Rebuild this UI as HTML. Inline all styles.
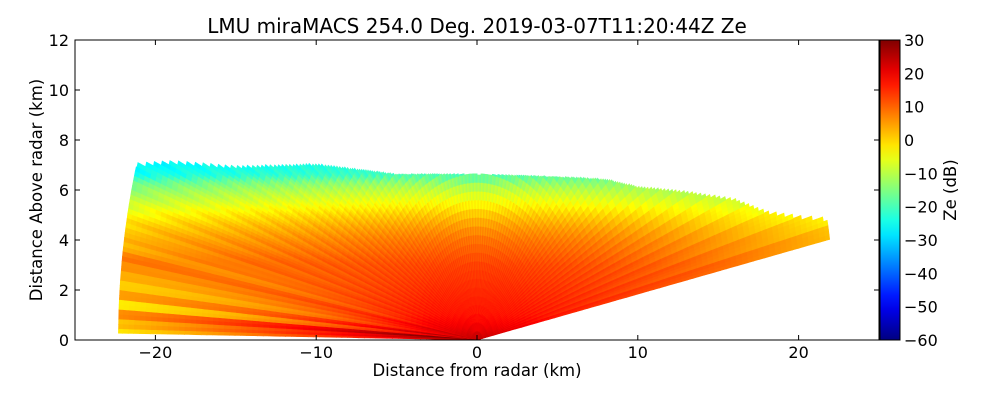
<!DOCTYPE html>
<html><head><meta charset="utf-8">
<style>
body{margin:0;background:#fff;}
svg{display:block;font-family:"DejaVu Sans","Liberation Sans",sans-serif;}
</style></head>
<body>
<svg id="c" width="1000" height="400" viewBox="0 0 1000 400" xmlns="http://www.w3.org/2000/svg">
<defs>
<linearGradient id="cbg" x1="0" y1="1" x2="0" y2="0"></linearGradient>
<clipPath id="pclip"><rect x="75" y="40" width="804" height="300"/></clipPath>
</defs>
<text x="477" y="33" font-size="20" text-anchor="middle">LMU miraMACS 254.0 Deg. 2019-03-07T11:20:44Z  Ze</text>
<g id="field" clip-path="url(#pclip)"></g>
<rect x="75" y="40" width="804" height="300" fill="none" stroke="#000" stroke-width="1"/>
<g id="axes"></g>
<text x="477" y="376" font-size="16.5" text-anchor="middle">Distance from radar (km)</text>
<text transform="translate(42,190) rotate(-90)" font-size="16.5" text-anchor="middle">Distance Above radar  (km)</text>
<rect x="880" y="40" width="20" height="300" fill="url(#cbg)" stroke="#000" stroke-width="1"/>
<text transform="translate(956,190) rotate(-90)" font-size="16.5" text-anchor="middle">Ze (dB)</text>
</svg>
<script>
// ---- data ----
const xTicks = [-20, -10, 0, 10, 20];
const yTicks = [0, 2, 4, 6, 8, 10, 12];
const cbTicks = [30, 20, 10, 0, -10, -20, -30, -40, -50, -60];
const echoTopX = [-23, -21, -19, -15, -10, -5, 0, 5, 8, 10, 13, 16, 18, 20, 22];
const echoTopH = [6.9, 7.0, 7.1, 6.9, 7.0, 6.6, 6.6, 6.5, 6.4, 6.1, 5.9, 5.6, 5.1, 4.9, 4.8];
const profileH = [0, 0.5, 1, 2, 3, 4, 4.5, 5, 5.5, 6, 6.3, 6.6, 7.2];
const profileZ = [24, 20, 17, 15, 13, 9, 6, 2, -3, -8, -12, -19, -22];
const bandAngles = [170, 172, 174, 175.5, 176.5, 177.5, 178.3, 179];
const bandOffsets = [-1, 1, -2, 2, -2, 6, 3, -2];
const minElev = 10.4, maxElev = 179.3, maxRange = 22.3;

// ---- axes functions ----
const X0 = 75, X1 = 879, Y0 = 340, Y1 = 40;
const px = x => X0 + (x + 25) / 50 * (X1 - X0);
const py = h => Y0 - h / 12 * (Y0 - Y1);
const cy = z => 340 - (z + 60) / 90 * 300;
function interp(xs, ys, x){
  if (x <= xs[0]) return ys[0];
  for (let i = 1; i < xs.length; i++) if (x <= xs[i]) { const t = (x - xs[i-1]) / (xs[i] - xs[i-1]); return ys[i-1] + t * (ys[i] - ys[i-1]); }
  return ys[ys.length - 1];
}
function jet(t){
  const c = v => Math.round(255 * Math.max(0, Math.min(1, v)));
  return `rgb(${c(1.5 - Math.abs(4*t - 3))},${c(1.5 - Math.abs(4*t - 2))},${c(1.5 - Math.abs(4*t - 1))})`;
}
const zcol = z => jet((Math.max(-60, Math.min(30, z)) + 60) / 90);
function bandOff(a){
  let best = 0, d = 99;
  for (let i = 0; i < bandAngles.length; i++) { const dd = Math.abs(a - bandAngles[i]); if (dd < d) { d = dd; best = i; } }
  return d < 1 ? bandOffsets[best] : 0;
}
const NS = "http://www.w3.org/2000/svg";
const field = document.getElementById('field');
const dA = 0.5, dR = 0.35;
const topAt = (t, r) => { const x = r * Math.cos(t), h = r * Math.sin(t); return h - interp(echoTopX, echoTopH, x); };
for (let a = minElev; a < maxElev; a += dA) {
  const a2 = Math.min(a + dA, maxElev);
  const amDeg = (a + a2) / 2;
  const am = amDeg * Math.PI / 180;
  let rEnd = maxRange;
  for (let r = 0; r < maxRange; r += 0.05) { if (topAt(am, r) > 0) { rEnd = r; break; } }
  const off = bandOff(amDeg) + ((Math.round(a / dA) % 4) - 1.5) * 0.8;
  for (let r = 0; r < rEnd; r += dR) {
    const rr2 = Math.min(r + dR, rEnd);
    const rm = (r + rr2) / 2;
    const x = rm * Math.cos(am), h = rm * Math.sin(am);
    let z = interp(profileH, profileZ, h) + off - 0.3 * Math.max(0, rm - 3);
    if (x < -3) z -= (-x - 3) * 0.9 * Math.max(0, 3.2 - h) / 3.2;
    const p = [[r, a], [rr2, a], [rr2, a2], [r, a2]].map(([rr, aa]) => {
      const t = aa * Math.PI / 180; return px(rr * Math.cos(t)).toFixed(1) + ',' + py(rr * Math.sin(t)).toFixed(1);
    }).join(' ');
    const poly = document.createElementNS(NS, 'polygon');
    poly.setAttribute('points', p);
    const col = zcol(z);
    poly.setAttribute('fill', col);
    poly.setAttribute('stroke', col);
    poly.setAttribute('stroke-width', '0.6');
    
    
    field.appendChild(poly);
  }
}
// colorbar gradient
const g = document.getElementById('cbg');
for (let i = 0; i <= 20; i++) {
  const s = document.createElementNS(NS, 'stop');
  s.setAttribute('offset', i / 20);
  s.setAttribute('stop-color', jet(i / 20));
  g.appendChild(s);
}
const axes = document.getElementById('axes');
function line(x1, y1, x2, y2, name){
  const l = document.createElementNS(NS, 'line');
  l.setAttribute('x1', x1); l.setAttribute('y1', y1); l.setAttribute('x2', x2); l.setAttribute('y2', y2);
  l.setAttribute('stroke', '#000'); l.setAttribute('stroke-width', '1');
  
  
  axes.appendChild(l);
}
function text(x, y, s, anchor, name){
  const t = document.createElementNS(NS, 'text');
  t.setAttribute('x', x); t.setAttribute('y', y); t.setAttribute('font-size', '16'); t.setAttribute('text-anchor', anchor);
  t.textContent = s;
  
  
  axes.appendChild(t);
}
const fmt = v => v < 0 ? '\u2212' + (-v) : String(v);
xTicks.forEach(v => {
  const x = px(v);
  line(x, Y0, x, Y0 - 5, 'x-tick');
  line(x, Y1, x, Y1 + 5, 'x-tick-top');
  text(x, 358, fmt(v), 'middle', 'x-tick-label');
});
yTicks.forEach(v => {
  const y = py(v);
  line(X0, y, X0 + 5, y, 'y-tick');
  line(X1, y, X1 - 5, y, 'y-tick-right');
  text(69, y + 6, fmt(v), 'end', 'y-tick-label');
});
cbTicks.forEach(v => {
  const y = cy(v);
  line(900, y, 895, y, 'colorbar-tick');
  text(904, y + 6, fmt(v), 'start', 'colorbar-tick-label');
});
</script>
</body></html>
